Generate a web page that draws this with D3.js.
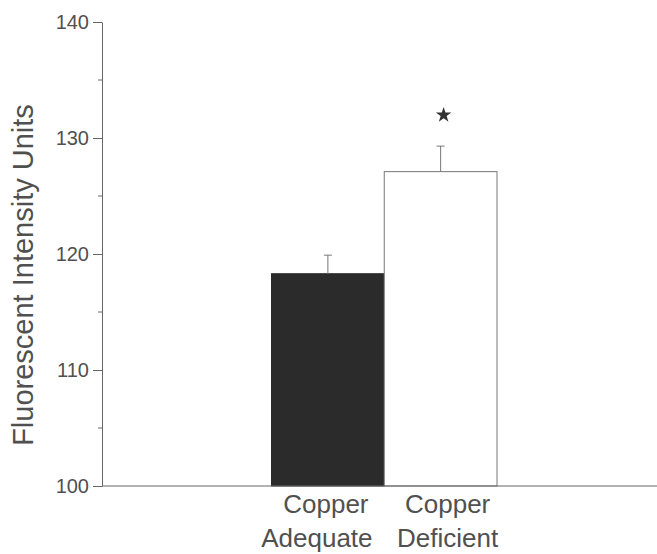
<!DOCTYPE html>
<html>
<head>
<meta charset="utf-8">
<script src="https://cdn.jsdelivr.net/npm/d3@7"></script>
<style>
  body { margin: 0; background: #fff; }
  text { font-family: "Liberation Sans", Arial, sans-serif; fill: #505050; }
</style>
</head>
<body>
<div id="chart"></div>
<script>
// values
const groups = ["Copper Adequate", "Copper Deficient"];
const labelLines = [["Copper", "Adequate"], ["Copper", "Deficient"]];
const means = [118.3, 127.1];
const errors = [1.6, 2.2];
const significant = [false, true];
const yTicks = [100, 110, 120, 130, 140];
const yMinor = [105, 115, 125, 135];

const width = 657, height = 554;
const axisX = 102, axisRight = 657;
const plotTop = 22, plotBottom = 486;

const svg = d3.select("#chart").append("svg")
    .attr("width", width)
    .attr("height", height);

const y = d3.scaleLinear()
    .domain([100, 140])
    .range([plotBottom, plotTop]);

const x = d3.scaleBand()
    .domain(groups)
    .range([271.5, 497])
    .padding(0);

const lineCol = "#666";

// bars
svg.append("g")
  .selectAll("rect")
  .data(groups)
  .join("rect")
    .attr("x", d => x(d))
    .attr("width", x.bandwidth())
    .attr("y", (d, i) => y(means[i]))
    .attr("height", (d, i) => y(100) - y(means[i]))
    .attr("fill", (d, i) => i === 0 ? "#2b2b2b" : "#fff")
    .attr("stroke", (d, i) => i === 0 ? "#2b2b2b" : "#777")
    .attr("stroke-width", 1);

// error bars (upper only)
const eb = svg.append("g").attr("stroke", "#777").attr("stroke-width", 1);
groups.forEach((g, i) => {
  const cx = x(g) + x.bandwidth() / 2;
  const yTop = y(means[i] + errors[i]);
  eb.append("line")
      .attr("x1", cx).attr("x2", cx)
      .attr("y1", y(means[i])).attr("y2", yTop);
  eb.append("line")
      .attr("x1", cx - 4).attr("x2", cx + 4)
      .attr("y1", yTop).attr("y2", yTop);
  if (significant[i]) {
    svg.append("path")
        .attr("d", d3.symbol(d3.symbolStar).size(75)())
        .attr("transform", `translate(${cx + 3},${yTop - 31})`)
        .attr("fill", "#333");
  }
});

// y axis
const yAxis = d3.axisLeft(y)
    .tickValues(yTicks)
    .tickSize(9)
    .tickPadding(4)
    .tickSizeOuter(0);

const ya = svg.append("g")
    .attr("transform", `translate(${axisX},0)`)
    .call(yAxis);
ya.select(".domain").attr("stroke", lineCol);
ya.selectAll(".tick line").attr("stroke", lineCol);
ya.selectAll(".tick text")
    .style("font-size", "20px")
    .attr("fill", null);

ya.selectAll(".minor")
  .data(yMinor)
  .join("line")
    .attr("class", "minor")
    .attr("x1", -4).attr("x2", 0)
    .attr("y1", d => y(d)).attr("y2", d => y(d))
    .attr("stroke", lineCol);

// x axis line
svg.append("line")
    .attr("x1", axisX).attr("x2", axisRight)
    .attr("y1", y(100)).attr("y2", y(100))
    .attr("stroke", lineCol);

// category labels (slightly off-centre in the original)
const shift = [[-2, -11], [7, 7]];
const xl = svg.append("g");
groups.forEach((g, i) => {
  const t = xl.append("text")
      .attr("text-anchor", "middle")
      .style("font-size", "26px");
  labelLines[i].forEach((line, j) => {
    t.append("tspan")
        .attr("x", x(g) + x.bandwidth() / 2 + shift[i][j])
        .attr("y", 513 + j * 34)
        .text(line);
  });
});

// y title
svg.append("text")
    .attr("transform", `translate(33,${(plotTop + plotBottom) / 2 + 21}) rotate(-90)`)
    .attr("text-anchor", "middle")
    .style("font-size", "29px")
    .text("Fluorescent Intensity Units");
</script>
</body>
</html>
